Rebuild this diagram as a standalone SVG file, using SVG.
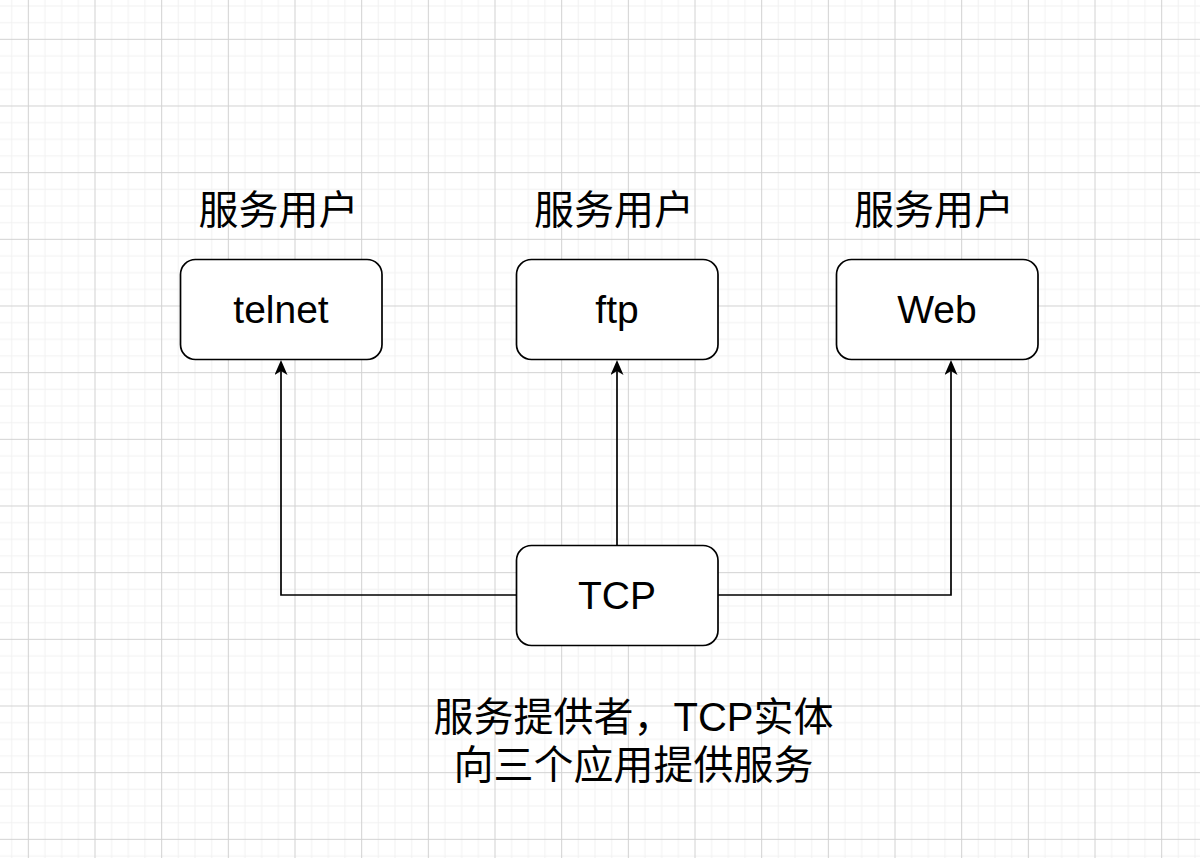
<svg xmlns="http://www.w3.org/2000/svg" width="1200" height="858" viewBox="0 0 1200 858">
  <style>
    .box { fill: #ffffff; stroke: #000000; stroke-width: 1.7; }
    .lbl { font-family: "Liberation Sans", "Noto Sans CJK SC", sans-serif; font-size: 39px; fill: #000000; text-anchor: middle; }
    .txt { font-family: "Liberation Sans", "Noto Sans CJK SC", sans-serif; font-size: 40px; fill: #000000; text-anchor: middle; }
    .edge { fill: none; stroke: #000000; stroke-width: 1.7; marker-end: url(#arrow); }
  </style>
  <defs>
    <pattern id="grid" patternUnits="userSpaceOnUse" x="27.83" y="38.83" width="66.667" height="66.667">
      <rect width="66.667" height="66.667" fill="#ffffff"/>
      <path d="M17.17 0V66.667M33.83 0V66.667M50.5 0V66.667M0 17.17H66.667M0 33.83H66.667M0 50.5H66.667" stroke="#f2f2f2" stroke-width="1"/>
      <path d="M0.5 0V66.667M0 0.5H66.667" stroke="#d2d2d2" stroke-width="1"/>
    </pattern>
    <marker id="arrow" markerUnits="userSpaceOnUse" viewBox="0 0 15 13" markerWidth="15" markerHeight="13" refX="4" refY="6.5" orient="auto">
      <path d="M0,0 L15,6.5 L0,13 L4,6.5 Z" fill="#000000"/>
    </marker>
  </defs>
  <rect width="1200" height="858" fill="url(#grid)"/>

  <g id="connectors">
    <path class="edge" d="M516 595H281V371"/>
    <path class="edge" d="M617 545V371"/>
    <path class="edge" d="M718 595H951V371"/>
  </g>

  <g id="title-telnet"><text class="txt" x="278.5" y="224">服务用户</text></g>
  <g id="title-ftp"><text class="txt" x="614" y="224">服务用户</text></g>
  <g id="title-web"><text class="txt" x="934" y="224">服务用户</text></g>

  <g id="telnet">
    <rect class="box" x="180.5" y="259.5" width="201.5" height="100" rx="15" ry="15"/>
    <text class="lbl" x="281" y="323">telnet</text>
  </g>
  <g id="ftp">
    <rect class="box" x="516.5" y="259.5" width="201.5" height="100" rx="15" ry="15"/>
    <text class="lbl" x="617" y="323">ftp</text>
  </g>
  <g id="web">
    <rect class="box" x="836.5" y="259.5" width="201.5" height="100" rx="15" ry="15"/>
    <text class="lbl" x="937" y="323">Web</text>
  </g>
  <g id="tcp">
    <rect class="box" x="516.5" y="545.5" width="201.5" height="100" rx="15" ry="15"/>
    <text class="lbl" x="617" y="609">TCP</text>
  </g>

  <g id="note">
    <text class="txt" x="633.5" y="731">服务提供者，TCP实体</text>
    <text class="txt" x="633.5" y="779">向三个应用提供服务</text>
  </g>
</svg>
